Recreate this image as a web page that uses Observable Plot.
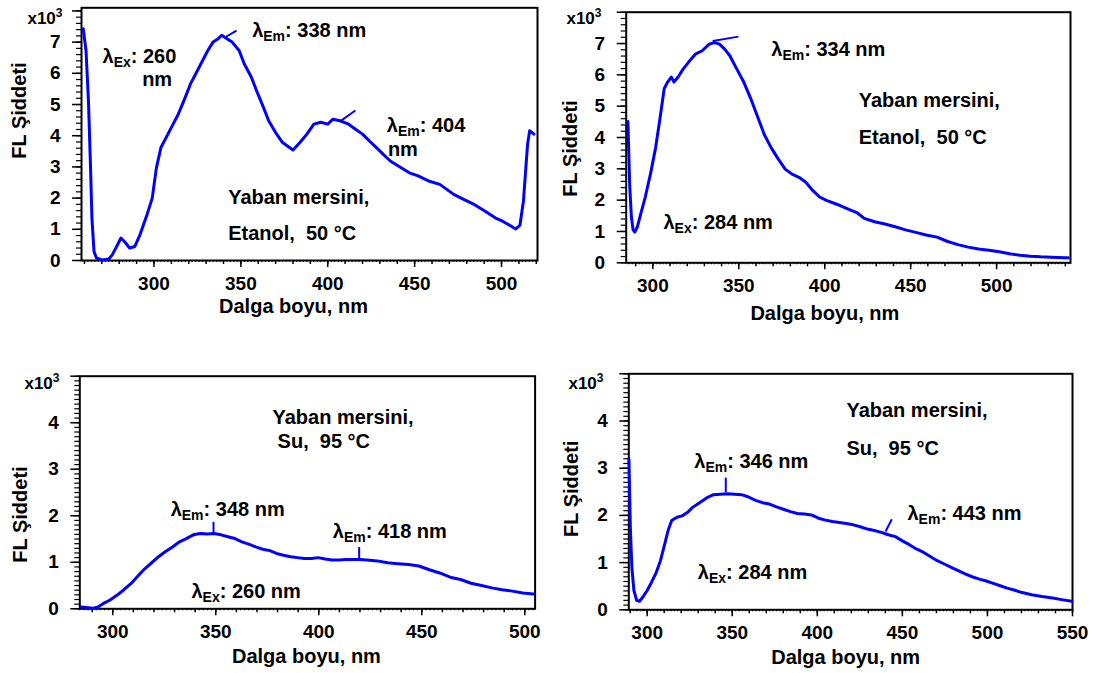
<!DOCTYPE html>
<html>
<head>
<meta charset="utf-8">
<script src="https://cdn.jsdelivr.net/npm/d3@7"></script>
<script src="https://cdn.jsdelivr.net/npm/@observablehq/plot@0.6"></script>
<style>
  html, body { margin: 0; padding: 0; background: #fff; }
  #chart { position: relative; width: 1098px; height: 673px; overflow: hidden; background: #fff; }
  #chart svg { position: absolute; }
</style>
</head>
<body>
<div id="chart"></div>
<script>
// ---------------- DATA ----------------
// Panel 1: Yaban mersini, Etanol 50 °C, λEx 260 nm
const p1Wavelength = [259.3, 260.9, 262.3, 263.5, 264.3, 265.5, 266.9, 270, 274, 276,
  279, 281, 283, 286, 289, 292, 296, 299, 301.4, 304,
  307, 311, 314, 318, 321, 324, 328, 331, 334, 337,
  339, 342, 345, 349, 352, 356, 359, 363, 366, 370,
  374, 378, 380, 384, 388, 392, 396, 400, 403, 407,
  412, 416, 420, 424, 428, 432, 436, 442, 447, 452,
  458, 464.5, 468.5, 472.5, 478.5, 484.5, 490.6, 496.6, 500.6, 505.6,
  508.2, 510.6, 512.6, 514, 515, 516.2, 517.6, 518.7];
const p1Intensity = [7.43, 6.73, 5.12, 2.98, 1.36, 0.29, 0.08, 0.02, 0.05, 0.18,
  0.5, 0.72, 0.61, 0.4, 0.45, 0.83, 1.47, 2.0, 2.97, 3.62,
  3.94, 4.37, 4.69, 5.23, 5.66, 5.98, 6.41, 6.73, 7.0, 7.11,
  7.22, 7.11, 7.0, 6.73, 6.3, 5.88, 5.45, 4.91, 4.48, 4.1,
  3.78, 3.62, 3.54, 3.78, 4.05, 4.37, 4.43, 4.37, 4.53, 4.48,
  4.37, 4.21, 4.05, 3.83, 3.62, 3.4, 3.19, 2.98, 2.81, 2.71,
  2.55, 2.44, 2.28, 2.12, 1.95, 1.79, 1.58, 1.36, 1.26, 1.10,
  1.01, 1.13, 1.9, 2.98, 3.73, 4.16, 4.1, 4.05];

// Panel 2: Yaban mersini, Etanol 50 °C, λEx 284 nm
const p2Wavelength = [285.5, 286.5, 287.5, 288.5, 289.5, 291, 293, 295.6, 298.6, 301.6,
  304.2, 306.6, 308.6, 310.7, 312.3, 314.7, 317.7, 320.7, 324.7, 328.7,
  332.8, 335.8, 338.8, 341.8, 344.8, 348.8, 352.9, 356.9, 360.9, 364.9,
  368.9, 373, 377, 381, 385, 389, 393, 397, 401, 407,
  413, 419, 423, 429, 435, 441, 447, 453, 459, 465.4,
  471.5, 477.5, 483.5, 489.5, 495.6, 501.6, 507.6, 513.7, 519.7, 525.7,
  531.8, 539.8, 541.8];
const p2Intensity = [4.51, 2.52, 1.47, 1.05, 0.98, 1.15, 1.57, 2.1, 2.83, 3.67,
  4.62, 5.56, 5.77, 5.93, 5.77, 5.93, 6.19, 6.4, 6.66, 6.77,
  6.98, 7.03, 6.98, 6.82, 6.61, 6.19, 5.77, 5.25, 4.67, 4.09,
  3.67, 3.31, 2.99, 2.83, 2.73, 2.57, 2.31, 2.1, 1.99, 1.87,
  1.73, 1.59, 1.42, 1.31, 1.24, 1.15, 1.05, 0.97, 0.89, 0.82,
  0.68, 0.58, 0.5, 0.44, 0.4, 0.35, 0.29, 0.24, 0.21, 0.19,
  0.18, 0.16, 0.16];

// Panel 3: Yaban mersini, Su 95 °C, λEx 260 nm
const p3Wavelength = [284.8, 290.2, 292.8, 295.3, 298.7, 302, 305.4, 308.8, 312.1, 315.5,
  318.9, 322.2, 325.6, 329, 332.4, 335.7, 339.1, 342.5, 345.8, 349.2,
  352.6, 355.9, 359.3, 362.7, 366, 369.4, 372.8, 376.2, 379.5, 382.9,
  386.3, 389.6, 393, 396.4, 399.7, 403.1, 406.5, 409.9, 413.2, 416.6,
  420, 423.3, 428.4, 433.4, 438.5, 443.6, 448.6, 453.7, 458.7, 463.8,
  468.8, 473.9, 479, 484, 489, 494, 499, 504.2];
const p3Intensity = [0.04, 0.01, 0.04, 0.11, 0.19, 0.29, 0.41, 0.54, 0.7, 0.86,
  0.99, 1.12, 1.23, 1.33, 1.44, 1.51, 1.59, 1.62, 1.61, 1.62,
  1.59, 1.55, 1.51, 1.44, 1.39, 1.33, 1.28, 1.25, 1.19, 1.15,
  1.12, 1.1, 1.08, 1.08, 1.1, 1.07, 1.05, 1.05, 1.06, 1.06,
  1.06, 1.05, 1.03, 0.99, 0.97, 0.95, 0.92, 0.84, 0.77, 0.68,
  0.63, 0.55, 0.5, 0.45, 0.41, 0.38, 0.34, 0.32];

// Panel 4: Yaban mersini, Su 95 °C, λEx 284 nm
const p4Wavelength = [289.3, 290.1, 291, 292.2, 293.8, 295.5, 297.5, 300, 302.5, 305.1,
  307.8, 310.3, 312.3, 314.4, 317.5, 320.5, 323.6, 326.7, 330.8, 334.9,
  339, 343.1, 347.2, 351.4, 355.5, 359.6, 363.7, 367.8, 371.9, 376,
  380.1, 384.2, 388.3, 392.4, 396.5, 400.7, 404.8, 408.9, 413, 417.1,
  421.2, 425.3, 429.4, 433.5, 437.6, 441.7, 445.9, 450, 454.1, 458.2,
  462.3, 466.4, 470.5, 474.6, 478.7, 482.8, 486.9, 491, 495.2, 499.3,
  503.4, 507.5, 511.6, 515.7, 519.8, 526, 532.1, 538.3, 544.5, 549.6];
const p4Intensity = [3.19, 1.75, 0.9, 0.41, 0.2, 0.18, 0.27, 0.41, 0.58, 0.77,
  1.04, 1.39, 1.68, 1.89, 1.96, 1.99, 2.06, 2.17, 2.27, 2.37,
  2.44, 2.45, 2.46, 2.45, 2.44, 2.39, 2.32, 2.27, 2.24, 2.18,
  2.13, 2.08, 2.04, 2.03, 2.01, 1.94, 1.9, 1.87, 1.85, 1.83,
  1.8, 1.76, 1.71, 1.68, 1.64, 1.59, 1.55, 1.46, 1.38, 1.29,
  1.22, 1.13, 1.04, 0.97, 0.9, 0.83, 0.76, 0.7, 0.65, 0.61,
  0.56, 0.51, 0.46, 0.42, 0.37, 0.32, 0.28, 0.25, 0.21, 0.18];

// Tick labels
const xTickLabels12 = [300, 350, 400, 450, 500];
const xTickLabels3 = [300, 350, 400, 450, 500];
const xTickLabels4 = [300, 350, 400, 450, 500, 550];
const yTickLabelsTop = [0, 1, 2, 3, 4, 5, 6, 7];
const yTickLabelsBottom = [0, 1, 2, 3, 4];

// Texts
const xTitle = "Dalga boyu, nm";
const yTitle = "FL Şiddeti";
const yUnit = "x10^3";

const p1Notes = ["λ_Ex: 260", "nm", "λ_Em: 338 nm", "λ_Em: 404", "nm", "Yaban mersini,", "Etanol,\u00a0 50 °C"];
const p2Notes = ["λ_Em: 334 nm", "Yaban mersini,", "Etanol,\u00a0 50 °C", "λ_Ex: 284 nm"];
const p3Notes = ["Yaban mersini,", "Su,\u00a0 95 °C", "λ_Em: 348 nm", "λ_Em: 418 nm", "λ_Ex: 260 nm"];
const p4Notes = ["Yaban mersini,", "Su,\u00a0 95 °C", "λ_Em: 346 nm", "λ_Em: 443 nm", "λ_Ex: 284 nm"];

// ---------------- DRAWING ----------------
const FONT = "'Liberation Sans', Arial, Helvetica, sans-serif";
const BLUE = "#0000ff";

function rangeIn(a, b, step, dom) {
  return d3.range(a, b + step / 2, step).filter(v => v >= dom[0] - 1e-9 && v <= dom[1] + 1e-9);
}

function panel(cfg) {
  const data = cfg.wl.map((w, i) => ({w, v: cfg.iv[i]}));
  const notes = cfg.notes.map((t, i) => ({t, x: cfg.noteX[i], y: cfg.noteY[i]}));
  const ptr = cfg.pointers.map(p => ({x1: p[0], y1: p[1], x2: p[2], y2: p[3]}));
  const svg = Plot.plot({
    width: cfg.width, height: cfg.height,
    marginLeft: cfg.mL, marginRight: cfg.mR, marginTop: cfg.mT, marginBottom: cfg.mB,
    x: {domain: cfg.xDomain, label: null},
    y: {domain: cfg.yDomain, label: null},
    style: {fontFamily: FONT, fontWeight: "bold", background: "transparent", color: "black", overflow: "visible"},
    marks: [
      Plot.axisX(rangeIn(250, 560, 2, cfg.xDomain), {tickSize: 2, tickFormat: () => "", label: null, strokeWidth: 1}),
      Plot.axisX(rangeIn(250, 560, 10, cfg.xDomain), {tickSize: 4, tickFormat: () => "", label: null, strokeWidth: 1.5}),
      Plot.axisX(cfg.xTicks, {tickSize: 7, tickPadding: 9, fontSize: 19, label: null, strokeWidth: 1.5, tickFormat: d => String(d)}),
      Plot.axisY(rangeIn(0, cfg.yDomain[1], cfg.yMinor, cfg.yDomain), {tickSize: 5, tickFormat: () => "", label: null, strokeWidth: 1.2}),
      Plot.axisY(d3.range(0, Math.floor(cfg.yDomain[1]) + 1), {tickSize: 9, tickFormat: () => "", label: null, strokeWidth: 1.5}),
      Plot.axisY(cfg.yTicks, {tickSize: 0, tickPadding: 21, fontSize: 19, label: null, tickFormat: d => String(d)}),
      Plot.frame({stroke: "black", strokeWidth: 2}),
      Plot.line(data, {x: "w", y: "v", stroke: BLUE, strokeWidth: 3, strokeLinejoin: "round"}),
      Plot.link(ptr, {x1: "x1", y1: "y1", x2: "x2", y2: "y2", stroke: BLUE, strokeWidth: 2}),
      Plot.text(notes, {x: "x", y: "y", text: "t", textAnchor: "start", lineAnchor: "middle", fontSize: 20, fill: "black"}),
      Plot.text([yTitle], {text: d => d, frameAnchor: "left", rotate: -90, textAnchor: "middle", lineAnchor: "middle", fontSize: 20, dx: cfg.yt[0], dy: cfg.yt[1]}),
      Plot.text([xTitle], {text: d => d, frameAnchor: "bottom", textAnchor: "middle", lineAnchor: "middle", fontSize: 20, dx: cfg.xt[0], dy: cfg.xt[1]}),
      Plot.text([yUnit], {text: d => d, frameAnchor: "top-left", textAnchor: "end", lineAnchor: "middle", fontSize: 17, dx: cfg.u[0], dy: cfg.u[1]})
    ]
  });
  decorate(svg);
  svg.style.left = cfg.left + "px";
  svg.style.top = cfg.top + "px";
  document.getElementById("chart").appendChild(svg);
}

function addSpan(t, s, attrs) {
  const sp = document.createElementNS("http://www.w3.org/2000/svg", "tspan");
  sp.textContent = s;
  if (attrs) for (const k in attrs) sp.setAttribute(k, attrs[k]);
  t.appendChild(sp);
}

function decorate(svg) {
  svg.querySelectorAll("text").forEach(t => {
    if (t.querySelector("tspan")) return;
    const s = t.textContent;
    const m = s.match(/^λ_(E[mx])(.*)$/);
    if (m) {
      t.textContent = "";
      addSpan(t, "λ");
      addSpan(t, m[1], {"font-size": 14, dy: 4});
      addSpan(t, m[2], {dy: -4});
    } else if (s === "x10^3") {
      t.textContent = "";
      addSpan(t, "x10");
      addSpan(t, "3", {"font-size": 12, dy: -7});
    }
  });
}

panel({
  left: 0, top: 0, width: 549, height: 340, mL: 81, mR: 12, mT: 7.3, mB: 80,
  xDomain: [258.3, 520.7], yDomain: [0, 8.1], yMinor: 0.2,
  xTicks: xTickLabels12, yTicks: yTickLabelsTop,
  wl: p1Wavelength, iv: p1Intensity,
  notes: p1Notes,
  noteX: [270.4, 293.2, 356.5, 434.0, 434.6, 342.7, 342.7],
  noteY: [6.55, 5.8, 7.37, 4.33, 3.56, 2.01, 0.87],
  pointers: [[340.5, 7.14, 347.5, 7.37], [407.9, 4.49, 415.9, 4.81]],
  yt: [-62, -23.6], xt: [-16, 46], u: [-19, 10.3]
});

panel({
  left: 549, top: 0, width: 549, height: 340, mL: 76.7, mR: 28, mT: 11.7, mB: 77.7,
  xDomain: [284.5, 543], yDomain: [0, 8], yMinor: 0.2,
  xTicks: xTickLabels12, yTicks: yTickLabelsTop,
  wl: p2Wavelength, iv: p2Intensity,
  notes: p2Notes,
  noteX: [368.9, 419.8, 419.8, 306.2],
  noteY: [6.81, 5.18, 4.01, 1.28],
  pointers: [[334.8, 7.08, 349.8, 7.22]],
  yt: [-56, 11], xt: [-23.5, 50.7], u: [-24.7, 6.6]
});

panel({
  left: 0, top: 340, width: 549, height: 333, mL: 79.3, mR: 14.4, mT: 35.7, mB: 64.7,
  xDomain: [284, 505], yDomain: [0, 5], yMinor: 0.1,
  xTicks: xTickLabels3, yTicks: yTickLabelsBottom,
  wl: p3Wavelength, iv: p3Intensity,
  notes: p3Notes,
  noteX: [377.5, 380, 328.1, 406.8, 338.2],
  noteY: [4.1, 3.59, 2.13, 1.67, 0.38],
  pointers: [[348.9, 1.87, 348.9, 1.59], [419.6, 1.33, 419.6, 1.06]],
  yt: [-59, 22], xt: [-1, 47.4], u: [-20.3, 7.6]
});

panel({
  left: 549, top: 340, width: 549, height: 333, mL: 79.3, mR: 26, mT: 33.3, mB: 63.7,
  xDomain: [289.2, 550], yDomain: [0, 5], yMinor: 0.1,
  xTicks: xTickLabels4, yTicks: yTickLabelsBottom,
  wl: p4Wavelength, iv: p4Intensity,
  notes: p4Notes,
  noteX: [417.1, 417.1, 327.7, 453, 329.8],
  noteY: [4.21, 3.42, 3.15, 2.03, 0.78],
  pointers: [[346.2, 2.8, 346.2, 2.49], [440.1, 1.66, 443.8, 1.92]],
  yt: [-57, -3], xt: [-5, 48], u: [-25.3, 10]
});
</script>
</body>
</html>
